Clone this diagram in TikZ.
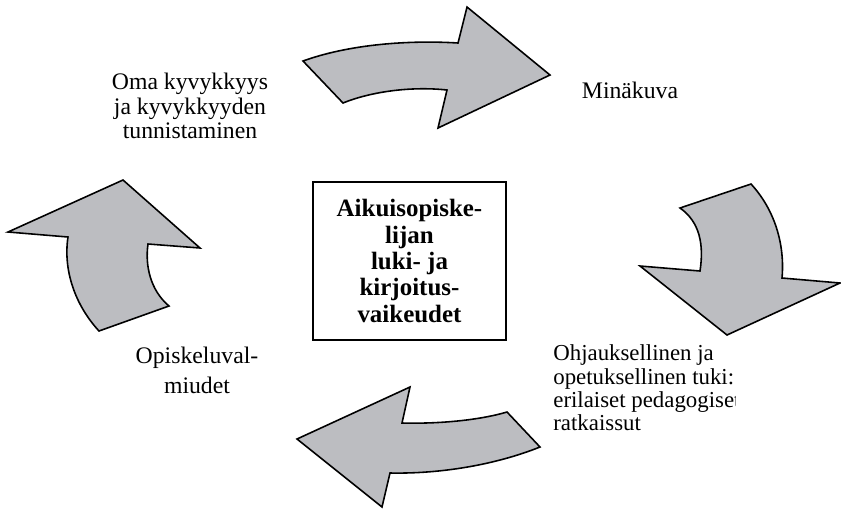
\documentclass[tikz,border=0pt]{standalone}
\usepackage{fontspec}
\setmainfont{Liberation Serif}
\usepackage{xcolor}
\usetikzlibrary{positioning}

\definecolor{arrowgray}{HTML}{BCBDC1}

\begin{document}
\begin{tikzpicture}[
    x=0.02cm, y=-0.02cm,
    bigarrow/.style={
        draw=black,
        line width=0.9pt,
        fill=arrowgray,
        line join=miter
    },
    core/.style={
        draw,
        line width=0.9pt,
        align=center,
        minimum width=3.86cm,
        minimum height=3.16cm,
        font=\bfseries\fontsize{14.2}{15}\selectfont
    },
    phase/.style={align=center, inner sep=0pt, font=\fontsize{13.5}{15.5}\selectfont}
]
\useasboundingbox (0,0) rectangle (841,508);

% the four curved arrows
\draw[bigarrow] (303,61) .. controls (350,44) and (410,40) .. (458,43) -- (467,7) -- (550,75)
    -- (438,128) -- (447,90) .. controls (410,86) and (370,92) .. (343,103) -- cycle;
\draw[bigarrow] (751,184) .. controls (775,210) and (785,245) .. (782,278) -- (840,283) -- (727,335)
    -- (640,266) -- (700,271) .. controls (704,245) and (700,222) .. (680,208) -- cycle;
\draw[bigarrow] (507,412) .. controls (480,420) and (440,424) .. (402,423) -- (410,387) -- (297,439)
    -- (382,507) -- (390,473) .. controls (440,474) and (495,465) .. (540,447) -- cycle;
\draw[bigarrow] (99,331) -- (169,306) .. controls (150,290) and (145,265) .. (148,244) -- (200,248)
    -- (123,180) -- (8,232) -- (68,237) .. controls (63,270) and (75,305) .. (99,331) -- cycle;

\node[core] (center) at (409.5,261) {Aikuisopiske-\\lijan\\luki- ja\\kirjoitus-\\vaikeudet};

\node[phase, font=\fontsize{13.5}{14}\selectfont] (ability) at (190,106) {Oma kyvykkyys\\ja kyvykkyyden\\tunnistaminen};
\node[phase] (selfimage) at (630,90) {Minäkuva};
\node[phase, font=\fontsize{13.5}{17}\selectfont] (styles) at (197,370) {Opiskeluval-\\miudet};

\begin{scope}
\clip (0,0) rectangle (735,508);
\node[phase, align=left, anchor=west, font=\fontsize{13}{13.3}\selectfont] (support) at (553,388)
    {Ohjauksellinen ja\\opetuksellinen tuki:\\erilaiset pedagogiset\\ratkaissut};
\end{scope}

\end{tikzpicture}
\end{document}
